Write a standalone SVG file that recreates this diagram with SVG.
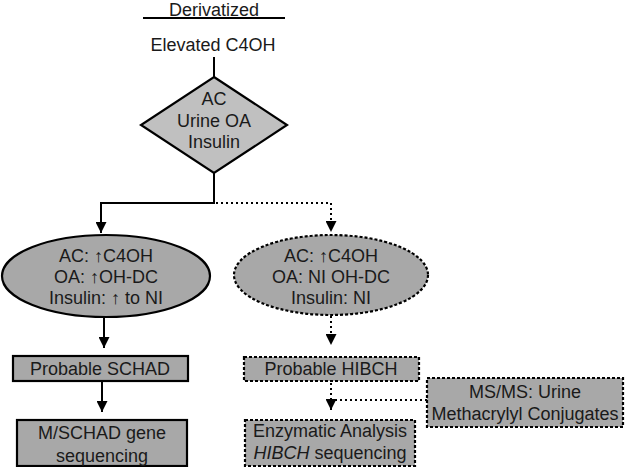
<svg xmlns="http://www.w3.org/2000/svg" width="625" height="467" viewBox="0 0 625 467">
<defs>
<style>
text{font-family:"Liberation Sans",Arial,sans-serif;font-size:18px;fill:#1a1a1a;text-anchor:middle}
.s{fill:none;stroke:#000;stroke-width:2}
.d{fill:none;stroke:#000;stroke-width:2;stroke-dasharray:2 3}
.f{fill:#a8a8a8;stroke:#000;stroke-width:2.2}
.fd{fill:#a8a8a8;stroke:#000;stroke-width:2.2;stroke-dasharray:3 2}
</style>
<marker id="ah" viewBox="0 0 10 10" refX="10" refY="5" markerWidth="5.5" markerHeight="5.5" orient="auto" markerUnits="strokeWidth"><path d="M0,0L10,5L0,10z" fill="#000"/></marker>
</defs>
<g id="header">
<text x="214" y="15.5">Derivatized</text>
<line x1="143" y1="18" x2="285" y2="18" stroke="#000" stroke-width="2"/>
<text x="213" y="51">Elevated C4OH</text>
</g>
<g id="connectors">
<line class="s" x1="214" y1="57" x2="214" y2="77"/>
<polyline class="s" points="214,173 214,203 101,203 101,233" marker-end="url(#ah)"/>
<polyline class="d" points="216,203 331,203 331,232" marker-end="url(#ah)"/>
<line class="s" x1="104" y1="318" x2="104" y2="348" marker-end="url(#ah)"/>
<line class="s" x1="102" y1="381" x2="102" y2="412" marker-end="url(#ah)"/>
<line class="d" x1="331" y1="316" x2="331" y2="345" marker-end="url(#ah)"/>
<line class="d" x1="331" y1="383" x2="331" y2="410" marker-end="url(#ah)"/>
<line class="d" x1="427" y1="400" x2="333" y2="400"/>
</g>
<g id="diamond">
<polygon points="214,77 287,125 214,173 141,125" fill="#c0c0c0" stroke="#000" stroke-width="2.2"/>
<text x="214" y="105">AC</text>
<text x="214" y="127">Urine OA</text>
<text x="214" y="148">Insulin</text>
</g>
<g id="ellipse-left">
<ellipse class="f" cx="106" cy="276" rx="104" ry="41"/>
<text x="106" y="262">AC: ↑C4OH</text>
<text x="106" y="283">OA: ↑OH-DC</text>
<text x="106" y="304">Insulin: ↑ to NI</text>
</g>
<g id="ellipse-right">
<ellipse class="fd" cx="331" cy="275" rx="97" ry="40"/>
<text x="331" y="262">AC: ↑C4OH</text>
<text x="331" y="283">OA: NI OH-DC</text>
<text x="331" y="304">Insulin: NI</text>
</g>
<g id="box-schad">
<rect class="f" x="13" y="356" width="175" height="25"/>
<text x="100" y="375">Probable SCHAD</text>
</g>
<g id="box-seq">
<rect class="f" x="17" y="420" width="170" height="46"/>
<text x="102" y="439">M/SCHAD gene</text>
<text x="102" y="462">sequencing</text>
</g>
<g id="box-hibch">
<rect class="fd" x="244" y="357" width="175" height="24"/>
<text x="331" y="375">Probable HIBCH</text>
</g>
<g id="box-msms">
<rect class="fd" x="427" y="378" width="196" height="49"/>
<text x="525" y="398">MS/MS: Urine</text>
<text x="525" y="420">Methacrylyl Conjugates</text>
</g>
<g id="box-enz">
<rect class="fd" x="245" y="420" width="170" height="46"/>
<text x="330" y="437">Enzymatic Analysis</text>
<text x="330" y="459"><tspan font-style="italic">HIBCH</tspan> sequencing</text>
</g>
</svg>
